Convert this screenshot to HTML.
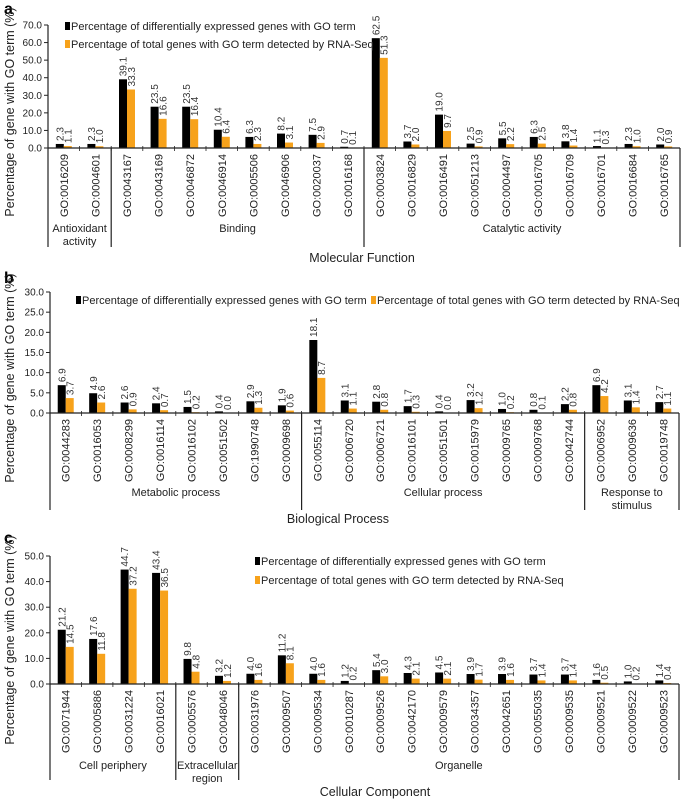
<!DOCTYPE html>
<html><head><meta charset="utf-8"><style>
html,body{margin:0;padding:0;background:#fff;}
svg{display:block;font-family:"Liberation Sans",Arial,sans-serif;}
</style></head><body>
<svg id="fig" width="685" height="799" viewBox="0 0 685 799"></svg>
<script>
const aCats=["GO:0016209","GO:0004601","GO:0043167","GO:0043169","GO:0046872","GO:0046914","GO:0005506","GO:0046906","GO:0020037","GO:0016168","GO:0003824","GO:0016829","GO:0016491","GO:0051213","GO:0004497","GO:0016705","GO:0016709","GO:0016701","GO:0016684","GO:0016765"];
const aDE=[2.3,2.3,39.1,23.5,23.5,10.4,6.3,8.2,7.5,0.7,62.5,3.7,19.0,2.5,5.5,6.3,3.8,1.1,2.3,2.0];
const aTot=[1.1,1.0,33.3,16.6,16.4,6.4,2.3,3.1,2.9,0.1,51.3,2.0,9.7,0.9,2.2,2.5,1.4,0.3,1.0,0.9];
const aTicks=[0,10,20,30,40,50,60,70];
const aGroups=[["Antioxidant","activity"],["Binding"],["Catalytic activity"]];
const aGroupSizes=[2,8,10];

const bCats=["GO:0044283","GO:0016053","GO:0008299","GO:0016114","GO:0016102","GO:0051502","GO:1990748","GO:0009698","GO:0055114","GO:0006720","GO:0006721","GO:0016101","GO:0051501","GO:0015979","GO:0009765","GO:0009768","GO:0042744","GO:0006952","GO:0009636","GO:0019748"];
const bDE=[6.9,4.9,2.6,2.4,1.5,0.4,2.9,1.9,18.1,3.1,2.8,1.7,0.4,3.2,1.0,0.8,2.2,6.9,3.1,2.7];
const bTot=[3.7,2.6,0.9,0.7,0.2,0.0,1.3,0.6,8.7,1.1,0.8,0.3,0.0,1.2,0.2,0.1,0.8,4.2,1.4,1.1];
const bTicks=[0,5,10,15,20,25,30];
const bGroups=[["Metabolic process"],["Cellular process"],["Response to","stimulus"]];
const bGroupSizes=[8,9,3];

const cCats=["GO:0071944","GO:0005886","GO:0031224","GO:0016021","GO:0005576","GO:0048046","GO:0031976","GO:0009507","GO:0009534","GO:0010287","GO:0009526","GO:0042170","GO:0009579","GO:0034357","GO:0042651","GO:0055035","GO:0009535","GO:0009521","GO:0009522","GO:0009523"];
const cDE=[21.2,17.6,44.7,43.4,9.8,3.2,4.0,11.2,4.0,1.2,5.4,4.3,4.5,3.9,3.9,3.7,3.7,1.6,1.0,1.4];
const cTot=[14.5,11.8,37.2,36.5,4.8,1.2,1.6,8.1,1.6,0.2,3.0,2.1,2.1,1.7,1.6,1.4,1.4,0.5,0.2,0.4];
const cTicks=[0,10,20,30,40,50];
const cGroups=[["Cell periphery"],["Extracellular","region"],["Organelle"]];
const cGroupSizes=[4,2,14];

const NS="http://www.w3.org/2000/svg";
const svg=document.getElementById('fig');
const ORANGE="#f7a21b";
function mk(tag,attrs,parent,text){const e=document.createElementNS(NS,tag);for(const k in attrs)e.setAttribute(k,attrs[k]);if(text!==undefined)e.textContent=text;(parent||svg).appendChild(e);return e;}

function panel(o){
  const g=mk('g',{});
  
  
  const x0=o.x0,x1=o.x1,n=o.cats.length,w=(x1-x0)/n;
  const ys=v=>o.y0-(v/o.max)*(o.y0-o.yTop);
  const xc=i=>x0+w*(i+0.5);
  const L=mk('text',{x:4,y:o.letterY,'font-size':16,'font-weight':'bold'},g,o.letter);
  
  
  const yt=mk('text',{x:0,y:0,'font-size':12.5,'text-anchor':'middle',transform:`translate(14,${o.yTitleY}) rotate(-90)`,fill:'#222'},g,"Percentage of gene with GO term (%)");
  
  
  o.ticks.forEach(t=>{
    const y=ys(t);
    mk('line',{x1:x0-4,x2:x0,y1:y,y2:y,stroke:'#222','stroke-width':1},g);
    const tl=mk('text',{x:x0-6,y:y+3.5,'font-size':10,'text-anchor':'end',fill:'#222'},g,t.toFixed(1));
    
    
  });
  o.cats.forEach((c,i)=>{
    const cx=xc(i);
    const b1=mk('rect',{x:cx-8,y:ys(o.de[i]),width:8,height:o.y0-ys(o.de[i]),fill:'#000'},g);
    
    
    const b2=mk('rect',{x:cx,y:ys(o.tot[i]),width:8,height:o.y0-ys(o.tot[i]),fill:ORANGE},g);
    
    
    const v1=mk('text',{x:0,y:0,'font-size':10,fill:'#333',transform:`translate(${cx-4+3.6},${ys(o.de[i])-3}) rotate(-90)`},g,o.de[i].toFixed(1));
    
    
    const v2=mk('text',{x:0,y:0,'font-size':10,fill:'#333',transform:`translate(${cx+4+3.8},${ys(o.tot[i])-3}) rotate(-90)`},g,o.tot[i].toFixed(1));
    
    
    const tl=mk('text',{x:0,y:0,'font-size':11,fill:'#222','text-anchor':'end',transform:`translate(${cx+4},${o.y0+6}) rotate(-90)`},g,c);
    
    
    if(i>0) mk('line',{x1:x0+i*w,x2:x0+i*w,y1:o.y0-2,y2:o.y0+3,stroke:'#222','stroke-width':0.8},g);
  });
  mk('line',{x1:x0,x2:x0,y1:o.yTop,y2:o.sepBottom,stroke:'#222','stroke-width':1.2},g);
  mk('line',{x1:x0,x2:x1,y1:o.y0,y2:o.y0,stroke:'#222','stroke-width':1.2},g);
  mk('line',{x1:x1,x2:x1,y1:o.y0,y2:o.sepBottom,stroke:'#222','stroke-width':1.2},g);
  let s=0;
  o.groupSizes.forEach((gs,k)=>{
    const gx0=x0+s*w,gx1=x0+(s+gs)*w;
    if(s>0) mk('line',{x1:gx0,x2:gx0,y1:o.y0,y2:o.sepBottom,stroke:'#222','stroke-width':1.2},g);
    o.groups[k].forEach((ln,j)=>{
      const gl=mk('text',{x:(gx0+gx1)/2,y:o.groupY+j*13,'font-size':11,'text-anchor':'middle',fill:'#222'},g,ln);
      
      
    });
    s+=gs;
  });
  const xt=mk('text',{x:o.titleX,y:o.titleY,'font-size':12.5,'text-anchor':'middle',fill:'#222'},g,o.title);
  
  
  o.legend.forEach((it,k)=>{
    const r=mk('rect',{x:it[0],y:it[1]-8,width:5,height:8,fill:k===0?'#000':ORANGE},g);
    
    
    const t=mk('text',{x:it[0]+6,y:it[1],'font-size':11,fill:'#222'},g,k===0?"Percentage of differentially expressed genes with GO term":"Percentage of total genes with GO term detected by RNA-Seq");
    
    
  });
}

panel({name:'panel-a-molecular-function',letter:'a',letterY:14,x0:48,x1:680,cats:aCats,de:aDE,tot:aTot,ticks:aTicks,max:70,y0:148,yTop:25,yTitleY:112,sepBottom:247,groups:aGroups,groupSizes:aGroupSizes,groupY:232,title:'Molecular Function',titleX:362,titleY:262,legend:[[65,30],[65,48]]});
panel({name:'panel-b-biological-process',letter:'b',letterY:283,x0:50,x1:679,cats:bCats,de:bDE,tot:bTot,ticks:bTicks,max:30,y0:413,yTop:292,yTitleY:378,sepBottom:510,groups:bGroups,groupSizes:bGroupSizes,groupY:496,title:'Biological Process',titleX:338,titleY:523,legend:[[76,304],[371,304]]});
panel({name:'panel-c-cellular-component',letter:'c',letterY:543,x0:50,x1:679,cats:cCats,de:cDE,tot:cTot,ticks:cTicks,max:50,y0:684,yTop:556,yTitleY:640,sepBottom:780,groups:cGroups,groupSizes:cGroupSizes,groupY:769,title:'Cellular Component',titleX:375,titleY:796,legend:[[255,565],[255,584]]});
</script>
</body></html>
